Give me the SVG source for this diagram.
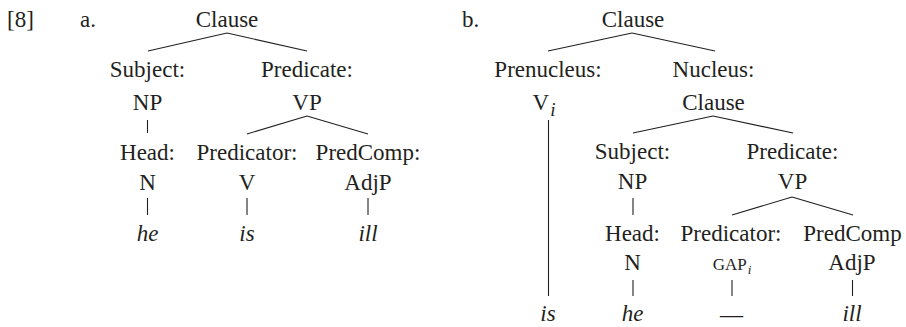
<svg xmlns="http://www.w3.org/2000/svg" width="906" height="327" viewBox="0 0 906 327">
<style>
text{font-size:23px;fill:#231f20;text-anchor:middle}
.l{text-anchor:start}
.it{font-style:italic}
.sc{font-size:17px}
.sub{font-style:italic;font-size:19px}
.sub2{font-style:italic;font-size:13px}
line{stroke:#231f20;stroke-width:1.1;fill:none}
</style>
<rect width="906" height="327" fill="#fff"/>
<g font-family="Liberation Serif, Times New Roman, serif">
<g id="labels">
<text class="l" x="7" y="27">[8]</text>
<text class="l" x="80" y="27">a.</text>
<text class="l" x="462" y="27">b.</text>
</g>
<g id="a-clause"><text x="227" y="27">Clause</text></g>
<g id="a-subject"><text x="147.5" y="77">Subject:</text><text x="147.5" y="110">NP</text></g>
<g id="a-predicate"><text x="307" y="77">Predicate:</text><text x="307" y="110">VP</text></g>
<g id="a-head"><text x="147.5" y="160">Head:</text><text x="147.5" y="190">N</text></g>
<g id="a-predicator"><text x="247" y="160">Predicator:</text><text x="247" y="190">V</text></g>
<g id="a-predcomp"><text x="368" y="160">PredComp:</text><text x="368" y="190">AdjP</text></g>
<g id="a-he"><text class="it" x="147.5" y="241">he</text></g>
<g id="a-is"><text class="it" x="247" y="241">is</text></g>
<g id="a-ill"><text class="it" x="368" y="241">ill</text></g>
<g id="b-clause"><text x="633" y="27">Clause</text></g>
<g id="b-prenucleus"><text x="548" y="77">Prenucleus:</text><text x="544" y="110">V<tspan class="sub" dx="1" dy="6">i</tspan></text></g>
<g id="b-nucleus"><text x="713.5" y="77">Nucleus:</text><text x="713.5" y="110">Clause</text></g>
<g id="b-subject"><text x="632.5" y="159">Subject:</text><text x="632.5" y="189">NP</text></g>
<g id="b-predicate"><text x="792.5" y="159">Predicate:</text><text x="792.5" y="189">VP</text></g>
<g id="b-head"><text x="632.5" y="241">Head:</text><text x="632.5" y="270">N</text></g>
<g id="b-predicator"><text x="731" y="241">Predicator:</text><text x="732" y="270"><tspan class="sc">GAP</tspan><tspan class="sub2" dx="1" dy="4">i</tspan></text></g>
<g id="b-predcomp"><text x="852.5" y="241">PredComp</text><text x="852" y="270">AdjP</text></g>
<g id="b-is"><text class="it" x="548" y="321">is</text></g>
<g id="b-he"><text class="it" x="632.5" y="321">he</text></g>
<g id="b-gap"><text x="731.5" y="322">—</text></g>
<g id="b-ill"><text class="it" x="852" y="321">ill</text></g>
</g>
<g id="connectors">
<line x1="227" y1="33" x2="148" y2="51"/>
<line x1="227" y1="33" x2="307" y2="51"/>
<line x1="147.5" y1="120" x2="147.5" y2="133"/>
<line x1="307" y1="116" x2="247" y2="134"/>
<line x1="307" y1="116" x2="368" y2="134"/>
<line x1="147.5" y1="198" x2="147.5" y2="215"/>
<line x1="247" y1="198" x2="247" y2="215"/>
<line x1="368" y1="198" x2="368" y2="215"/>
<line x1="632" y1="33" x2="548" y2="51"/>
<line x1="632" y1="33" x2="715" y2="51"/>
<line x1="548.5" y1="120" x2="548.5" y2="296"/>
<line x1="713" y1="116" x2="633" y2="133"/>
<line x1="713" y1="116" x2="793" y2="133"/>
<line x1="633" y1="198" x2="633" y2="215"/>
<line x1="792" y1="197" x2="732" y2="215"/>
<line x1="792" y1="197" x2="853" y2="215"/>
<line x1="633" y1="280" x2="633" y2="296"/>
<line x1="732" y1="280" x2="732" y2="296"/>
<line x1="852.5" y1="280" x2="852.5" y2="296"/>
</g>
</svg>
